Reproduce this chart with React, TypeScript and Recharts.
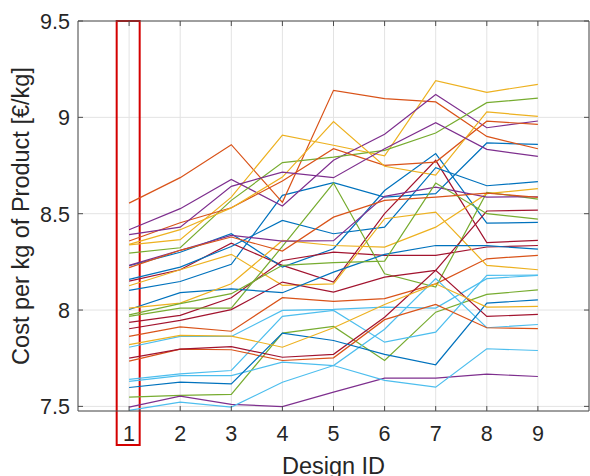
import React from 'react';
import { LineChart, Line, XAxis, YAxis, CartesianGrid, ReferenceArea } from 'recharts';

const designIds = [1, 2, 3, 4, 5, 6, 7, 8, 9];
const xTicks = [1, 2, 3, 4, 5, 6, 7, 8, 9];
const yTicks = [7.5, 8, 8.5, 9, 9.5];
const yTickLabels = ['7.5', '8', '8.5', '9', '9.5'];
const xDomain = [0, 10];
const yDomain = [7.476, 9.5];
const highlightX = [0.757, 1.207];
const highlightY = [7.3, 9.5];

const lineColors = ['#0072BD', '#D95319', '#EDB120', '#7E2F8E', '#77AC30', '#4DBEEE', '#A2142F'];

const cost01 = [8.102, 8.148, 8.237, 8.595, 8.661, 8.586, 8.604, 8.867, 8.86];
const cost02 = [8.555, 8.687, 8.858, 8.559, 9.14, 9.097, 9.08, 8.901, 8.837];
const cost03 = [8.338, 8.365, 8.586, 8.908, 8.855, 8.8, 9.19, 9.13, 9.171];
const cost04 = [8.417, 8.526, 8.678, 8.54, 8.777, 8.912, 9.118, 8.946, 8.981];
const cost05 = [8.295, 8.323, 8.569, 8.765, 8.794, 8.829, 8.919, 9.076, 9.1];
const cost06 = [7.807, 7.863, 7.863, 7.998, 8.003, 8.015, 8.01, 8.163, 8.18];
const cost07 = [8.15, 8.209, 8.347, 8.232, 8.145, 8.5, 8.777, 8.35, 8.361];
const cost08 = [8.23, 8.3, 8.396, 8.223, 8.318, 8.62, 8.812, 8.451, 8.455];
const cost09 = [8.358, 8.453, 8.531, 8.67, 8.837, 8.751, 8.768, 8.98, 8.964];
const cost10 = [8.341, 8.417, 8.53, 8.69, 8.978, 8.746, 8.7, 9.028, 9.005];
const cost11 = [8.391, 8.43, 8.642, 8.716, 8.687, 8.837, 8.972, 8.834, 8.797];
const cost12 = [7.548, 7.557, 7.562, 7.88, 7.915, 7.738, 7.989, 8.081, 8.105];
const cost13 = [7.64, 7.669, 7.686, 7.967, 7.998, 7.833, 7.885, 8.18, 8.181];
const cost14 = [7.936, 7.972, 8.064, 8.257, 8.3, 8.284, 8.284, 8.327, 8.335];
const cost15 = [8.159, 8.223, 8.33, 8.465, 8.396, 8.43, 8.739, 8.645, 8.666];
const cost16 = [7.863, 7.913, 7.89, 8.064, 8.045, 8.059, 8.136, 8.266, 8.284];
const cost17 = [8.126, 8.209, 8.289, 8.128, 8.136, 8.474, 8.508, 8.232, 8.209];
const cost18 = [7.496, 7.553, 7.51, 7.499, 7.574, 7.647, 7.647, 7.667, 7.655];
const cost19 = [7.967, 8.01, 8.01, 8.33, 8.659, 8.188, 8.119, 8.61, 8.576];
const cost20 = [7.63, 7.66, 7.66, 7.73, 7.712, 7.9, 8.163, 7.908, 7.925];
const cost21 = [7.903, 7.946, 8.002, 8.145, 8.093, 8.171, 8.206, 8.514, 8.519];
const cost22 = [8.003, 8.09, 8.11, 8.09, 8.197, 8.289, 8.335, 8.334, 8.316];
const cost23 = [7.735, 7.797, 7.794, 7.738, 7.752, 7.95, 8.029, 7.908, 7.903];
const cost24 = [8.01, 8.036, 8.136, 8.361, 8.335, 8.327, 8.43, 8.604, 8.63];
const cost25 = [8.232, 8.31, 8.387, 8.358, 8.36, 8.59, 8.638, 8.586, 8.588];
const cost26 = [7.975, 8.033, 8.085, 8.232, 8.246, 8.254, 8.659, 8.5, 8.472];
const cost27 = [7.479, 7.522, 7.496, 7.625, 7.712, 7.635, 7.6, 7.799, 7.79];
const cost28 = [7.75, 7.797, 7.81, 7.755, 7.77, 7.963, 8.206, 7.967, 7.977];
const cost29 = [7.598, 7.626, 7.617, 7.88, 7.842, 7.77, 7.716, 8.036, 8.053];
const cost30 = [8.22, 8.31, 8.379, 8.306, 8.482, 8.569, 8.586, 8.607, 8.585];
const cost31 = [7.82, 7.868, 7.865, 7.807, 7.908, 8.029, 8.136, 8.015, 8.019];

const allSeries = [
  cost01, cost02, cost03, cost04, cost05, cost06, cost07, cost08, cost09, cost10,
  cost11, cost12, cost13, cost14, cost15, cost16, cost17, cost18, cost19, cost20,
  cost21, cost22, cost23, cost24, cost25, cost26, cost27, cost28, cost29, cost30, cost31,
];

const data = designIds.map((id, i) => {
  const row: Record<string, number> = { id };
  allSeries.forEach((s, k) => {
    row['s' + k] = s[i];
  });
  return row;
});

const FONT = '"Liberation Sans", Arial, Helvetica, sans-serif';
const TEXT = '#262626';
const AXIS = '#4d4d4d';
const TICK_FS = 21.5;
const LABEL_FS = 23.5;

const BottomTick = (props: any) => {
  const { x, y, payload } = props;
  return (
    <g>
      <line x1={x} x2={x} y1={y} y2={y - 5} stroke={AXIS} strokeWidth={1} />
      <text x={x} y={y + 30} textAnchor="middle" fontSize={TICK_FS} fontFamily={FONT} fill={TEXT}>
        {payload.value}
      </text>
    </g>
  );
};

const TopTick = (props: any) => {
  const { x, y } = props;
  return <line x1={x} x2={x} y1={y} y2={y + 5} stroke={AXIS} strokeWidth={1} />;
};

const LeftTick = (props: any) => {
  const { x, y, payload } = props;
  const idx = yTicks.indexOf(payload.value);
  return (
    <g>
      <line x1={x} x2={x + 5} y1={y} y2={y} stroke={AXIS} strokeWidth={1} />
      <text x={x - 8} y={y + 8} textAnchor="end" fontSize={TICK_FS} fontFamily={FONT} fill={TEXT}>
        {idx >= 0 ? yTickLabels[idx] : payload.value}
      </text>
    </g>
  );
};

const RightTick = (props: any) => {
  const { x, y } = props;
  return <line x1={x} x2={x - 5} y1={y} y2={y} stroke={AXIS} strokeWidth={1} />;
};

const XLabel = (props: any) => {
  const vb = props.viewBox || { x: 0, y: 0, width: 0, height: 0 };
  return (
    <text x={vb.x + vb.width / 2} y={vb.y + 63} textAnchor="middle" fontSize={LABEL_FS} fontFamily={FONT} fill={TEXT}>
      Design ID
    </text>
  );
};

const YLabel = (props: any) => {
  const vb = props.viewBox || { x: 0, y: 0, width: 0, height: 0 };
  const cx = 29;
  const cy = vb.y + vb.height / 2;
  return (
    <text x={cx} y={cy} transform={`rotate(-90, ${cx}, ${cy})`} textAnchor="middle" fontSize={LABEL_FS} fontFamily={FONT} fill={TEXT}>
      Cost per kg of Product [€/kg]
    </text>
  );
};

export default function App() {
  return (
    <div style={{ position: 'absolute', left: 0, top: 0, width: 590, height: 476, background: '#fff' }}>
      <LineChart width={590} height={476} data={data} margin={{ top: 0, right: 0, bottom: 0, left: 0 }}>
        <CartesianGrid stroke="#e3e3e3" strokeWidth={1} />
        <XAxis
          dataKey="id"
          type="number"
          domain={xDomain}
          ticks={xTicks}
          height={65}
          tickSize={0}
          tickMargin={0}
          tickLine={false}
          axisLine={{ stroke: AXIS }}
          tick={BottomTick}
          interval={0}
          label={<XLabel />}
        />
        <XAxis
          xAxisId="top"
          orientation="top"
          dataKey="id"
          type="number"
          domain={xDomain}
          ticks={xTicks}
          height={21}
          tickSize={0}
          tickMargin={0}
          tickLine={false}
          axisLine={{ stroke: AXIS }}
          tick={TopTick}
          interval={0}
        />
        <YAxis
          type="number"
          domain={yDomain}
          ticks={yTicks}
          width={78}
          tickSize={0}
          tickMargin={0}
          tickLine={false}
          axisLine={{ stroke: AXIS }}
          tick={LeftTick}
          interval={0}
          allowDataOverflow
          label={<YLabel />}
        />
        <YAxis
          yAxisId="right"
          orientation="right"
          type="number"
          domain={yDomain}
          ticks={yTicks}
          width={1}
          tickSize={0}
          tickMargin={0}
          tickLine={false}
          axisLine={{ stroke: AXIS }}
          tick={RightTick}
          interval={0}
          allowDataOverflow
        />
        {allSeries.map((_, k) => (
          <Line
            key={k}
            type="linear"
            dataKey={'s' + k}
            stroke={lineColors[k % lineColors.length]}
            strokeWidth={1.2}
            dot={false}
            activeDot={false}
            isAnimationActive={false}
          />
        ))}
        <ReferenceArea
          x1={highlightX[0]}
          x2={highlightX[1]}
          y1={highlightY[0]}
          y2={highlightY[1]}
          ifOverflow="visible"
          fill="none"
          fillOpacity={0}
          stroke="#d40000"
          strokeWidth={2}
        />
      </LineChart>
    </div>
  );
}
